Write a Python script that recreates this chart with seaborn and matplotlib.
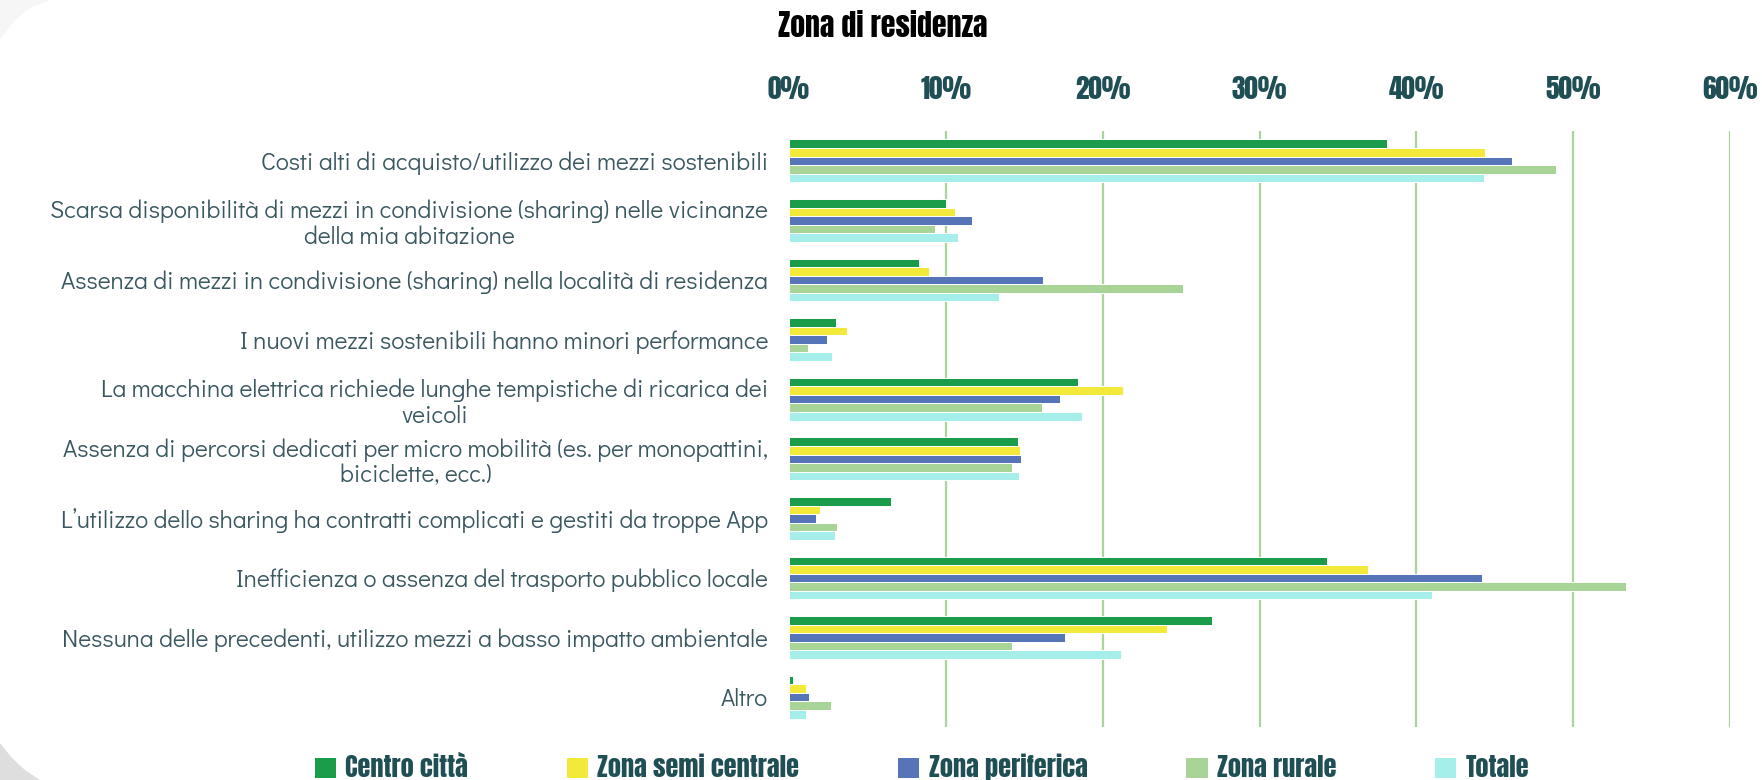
import matplotlib
matplotlib.use("Agg")
import matplotlib.pyplot as plt
from matplotlib import font_manager
from matplotlib.patches import Patch, Polygon
from matplotlib.ticker import PercentFormatter
import seaborn as sns
import pandas as pd

categories = [
    "Costi alti di acquisto/utilizzo dei mezzi sostenibili",
    "Scarsa disponibilità di mezzi in condivisione (sharing) nelle vicinanze\ndella mia abitazione",
    "Assenza di mezzi in condivisione (sharing) nella località di residenza",
    "I nuovi mezzi sostenibili hanno minori performance",
    "La macchina elettrica richiede lunghe tempistiche di ricarica dei\nveicoli",
    "Assenza di percorsi dedicati per micro mobilità (es. per monopattini,\nbiciclette, ecc.)",
    "L’utilizzo dello sharing ha contratti complicati e gestiti da troppe App",
    "Inefficienza o assenza del trasporto pubblico locale",
    "Nessuna delle precedenti, utilizzo mezzi a basso impatto ambientale",
    "Altro",
]
series_names = ["Centro città", "Zona semi centrale", "Zona periferica", "Zona rurale", "Totale"]
centro_citta = [38.1, 10.0, 8.3, 3.0, 18.4, 14.6, 6.5, 34.3, 27.0, 0.25]
semi_centrale = [44.4, 10.6, 8.9, 3.7, 21.3, 14.7, 2.0, 36.9, 24.1, 1.1]
periferica = [46.1, 11.7, 16.2, 2.4, 17.3, 14.8, 1.7, 44.2, 17.6, 1.25]
rurale = [48.9, 9.3, 25.1, 1.2, 16.1, 14.25, 3.05, 53.4, 14.25, 2.7]
totale = [44.3, 10.8, 13.4, 2.75, 18.7, 14.65, 2.95, 41.0, 21.2, 1.1]
x_ticks = [0, 10, 20, 30, 40, 50, 60]
title_text = "Zona di residenza"

colors = ["#1b9c4b", "#f2e93b", "#5675b9", "#a8d597", "#a6eee9"]
teal = "#1f4f55"
label_col = "#3a5860"

available = {f.name for f in font_manager.fontManager.ttflist}
heavy = "Anton" if "Anton" in available else "DejaVu Sans"
gothic = "Didact Gothic" if "Didact Gothic" in available else "DejaVu Sans"

rows = []
for name, vals in zip(series_names, [centro_citta, semi_centrale, periferica, rurale, totale]):
    for c, v in zip(categories, vals):
        rows.append({"cat": c, "val": v, "zona": name})
df = pd.DataFrame(rows)

sns.set_theme(style="white")
plt.rcParams["font.family"] = [gothic, "DejaVu Sans"]

W, H = 1762, 780
fig = plt.figure(figsize=(W / 100, H / 100), dpi=100)

# faint decorative corners of the slide background
fig.patches.append(Polygon([(0, 1), (50 / W, 1), (30 / W, 1 - 8 / H), (15 / W, 1 - 20 / H), (0, 1 - 40 / H)],
                           closed=True, transform=fig.transFigure, facecolor="#f6f6f6", edgecolor="none", zorder=0))
fig.patches.append(Polygon([(0, 0), (0, (H - 743) / H), (12 / W, (H - 758) / H), (25 / W, (H - 770) / H), (40 / W, 0)],
                           closed=True, transform=fig.transFigure, facecolor="#dedede", edgecolor="none", zorder=0))

ax = fig.add_axes([789 / W, 1 - 727 / H, (1730 - 789) / W, (727 - 131) / H])
ax.patch.set_alpha(0)

sns.barplot(data=df, y="cat", x="val", hue="zona", order=categories, hue_order=series_names,
            palette=colors, orient="h", width=0.72, saturation=1, edgecolor="white",
            linewidth=0.7, legend=False, ax=ax, errorbar=None)

ax.set_xlim(0, 60)
ax.set_ylim(len(categories) - 0.5, -0.5)
ax.set_xticks(x_ticks)
ax.xaxis.set_major_formatter(PercentFormatter(decimals=0))
ax.xaxis.tick_top()
ax.set_xlabel("")
ax.set_ylabel("")
for s in ax.spines.values():
    s.set_visible(False)
ax.set_axisbelow(True)
ax.grid(axis="x", color="#a9d59b", linewidth=1.6)
ax.grid(axis="y", visible=False)
ax.xaxis.get_gridlines()[0].set_visible(False)
ax.tick_params(axis="x", length=0, pad=21, labelsize=19.5, labelcolor=teal)
ax.tick_params(axis="y", length=0, pad=15, labelsize=17.6, labelcolor=label_col)
for t in ax.get_xticklabels():
    t.set_fontfamily(heavy)
for t in ax.get_yticklabels():
    t.set_multialignment("center")
    t.set_linespacing(1.15)

fig.text(883 / W, 1 - 26 / H, title_text, ha="center", va="center",
         fontsize=21.5, family=heavy, color="black")

handles = [Patch(facecolor=c, edgecolor="none") for c in colors]
leg = fig.legend(handles, series_names, loc="center", bbox_to_anchor=(922 / W, 1 - 767 / H),
                 ncol=5, frameon=False, handlelength=0.8, handleheight=0.8, handletextpad=0.35,
                 columnspacing=3.75, borderpad=0.0, prop={"family": heavy, "size": 19})
for t in leg.get_texts():
    t.set_color(teal)

fig.savefig("out.png", dpi=100, facecolor="white")
